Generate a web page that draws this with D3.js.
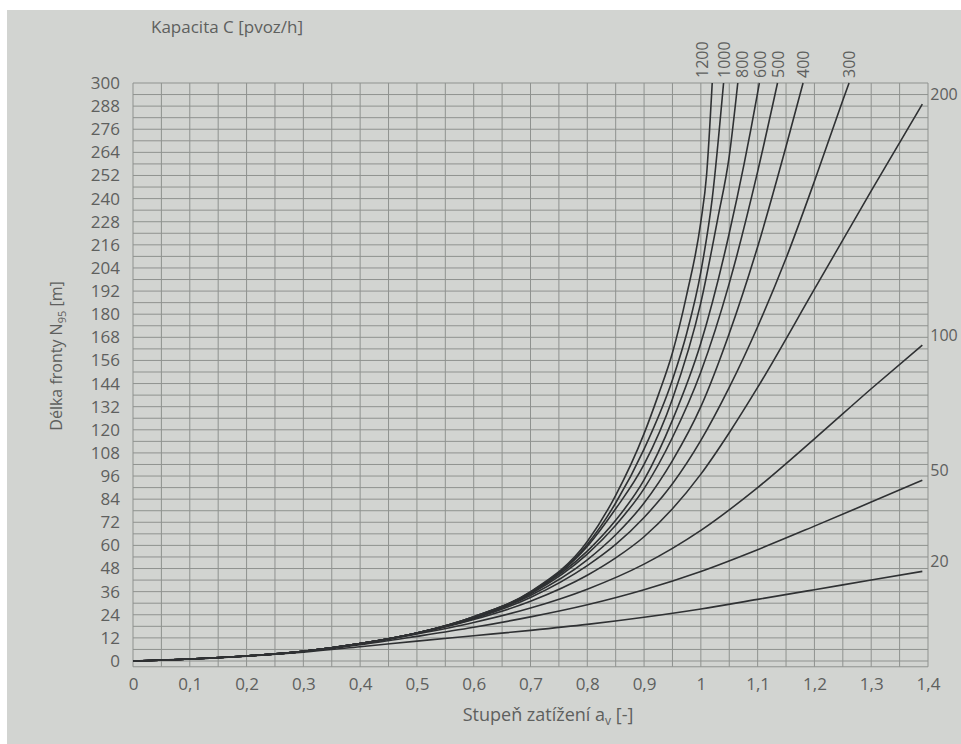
<!DOCTYPE html>
<html lang="cs">
<head>
<meta charset="UTF-8">
<title>Délka fronty N95</title>
<script src="https://cdn.jsdelivr.net/npm/d3@7"></script>
<style>
  body { margin: 0; background: #ffffff; }
  svg text { font-family: "Open Sans", "Noto Sans", sans-serif; fill: #5e605e; }
</style>
</head>
<body>
<script>
// capacity labels (pvoz/h) and the queue curves, [load a_v, N95 in m]
var capacities = ["20", "50", "100", "200", "300", "400", "500", "600", "800", "1000", "1200"];

var q20 = [[0,0],[0.1,1],[0.2,2.5],[0.3,4.6],[0.4,7.4],[0.5,10.3],[0.6,13.1],[0.7,15.9],[0.8,19],[0.9,22.7],[1.0,27],[1.1,32],[1.2,37],[1.3,42],[1.39,46.5]];
var q50 = [[0,0],[0.1,1],[0.2,2.6],[0.3,4.9],[0.4,8.4],[0.5,12.8],[0.6,17.5],[0.7,22.9],[0.8,29.2],[0.9,37],[1.0,46.5],[1.1,57.8],[1.2,70],[1.3,82.5],[1.39,93.8]];
var q100 = [[0,0],[0.1,1],[0.2,2.6],[0.3,5],[0.4,8.8],[0.5,14],[0.6,20],[0.7,27.5],[0.8,37.3],[0.9,50.3],[1.0,67.8],[1.1,90],[1.2,115.3],[1.3,141.3],[1.39,164]];
var q200 = [[0,0],[0.1,1],[0.2,2.6],[0.3,5],[0.4,9],[0.5,14.3],[0.6,21.5],[0.7,31],[0.8,44.5],[0.85,53.5],[0.9,64.5],[0.95,79],[1.0,97],[1.05,118.5],[1.1,142],[1.2,193],[1.3,244],[1.39,289]];
var q300 = [[0,0],[0.1,1],[0.2,2.6],[0.3,5],[0.4,9],[0.5,14.5],[0.6,22],[0.7,33],[0.8,49.5],[0.85,60.5],[0.9,74.5],[0.95,92],[1.0,114.5],[1.05,142],[1.1,173.5],[1.15,209],[1.2,249],[1.25,291],[1.261,300]];
var q400 = [[0,0],[0.1,1],[0.2,2.6],[0.3,5],[0.4,9],[0.5,14.5],[0.6,22.3],[0.7,34],[0.8,52.5],[0.85,65.5],[0.9,82],[0.95,104],[1.0,132],[1.05,170],[1.1,215],[1.15,267],[1.18,300]];
var q500 = [[0,0],[0.1,1],[0.2,2.6],[0.3,5],[0.4,9],[0.5,14.5],[0.6,22.5],[0.7,34.8],[0.8,55.5],[0.85,70.5],[0.9,89.5],[0.95,116],[1.0,150],[1.05,196],[1.1,254],[1.135,300]];
var q600 = [[0,0],[0.1,1],[0.2,2.6],[0.3,5],[0.4,9],[0.5,14.5],[0.6,22.6],[0.7,35.2],[0.8,57],[0.85,73],[0.9,94],[0.95,125],[1.0,165],[1.05,222],[1.1,295],[1.103,300]];
var q800 = [[0,0],[0.1,1],[0.2,2.6],[0.3,5],[0.4,9],[0.5,14.5],[0.6,22.8],[0.7,35.5],[0.8,59.5],[0.85,79],[0.9,102],[0.95,136],[1.0,186],[1.03,230],[1.05,262],[1.065,300]];
var q1000 = [[0,0],[0.1,1],[0.2,2.6],[0.3,5],[0.4,9],[0.5,14.5],[0.6,23],[0.7,35.7],[0.8,60.5],[0.85,82],[0.9,110],[0.95,146],[0.975,170],[1.0,202],[1.02,240],[1.04,300]];
var q1200 = [[0,0],[0.1,1],[0.2,2.6],[0.3,5],[0.4,9],[0.5,14.5],[0.6,23],[0.7,36],[0.8,62],[0.85,86],[0.9,118],[0.925,138],[0.95,160],[0.975,190],[1.0,228],[1.01,252],[1.02,300]];

var yTicks = d3.range(0, 301, 12);
var xTicks = d3.range(0, 15).map(function (i) { return i / 10; });

var curves = [q20, q50, q100, q200, q300, q400, q500, q600, q800, q1000, q1200];

var w = 961, h = 744;
var padL = 133, padR = 928, padT = 83, padB = 661;

var svg = d3.select("body").append("svg")
    .attr("width", w)
    .attr("height", h);

// paper
svg.append("rect")
    .attr("x", 7).attr("y", 10)
    .attr("width", w - 7).attr("height", h - 10)
    .attr("fill", "#d2d4d1");

var x = d3.scaleLinear().domain([0, 1.4]).range([padL, padR]);
var y = d3.scaleLinear().domain([0, 300]).range([padB, padT]);

// grid, every 0.05 and every 6 m
var grid = svg.append("g").attr("stroke", "#8f928f").attr("stroke-width", 1).attr("fill", "none");
grid.selectAll("line.v")
    .data(d3.range(0, 29).map(function (i) { return i * 0.05; }))
    .enter().append("line").attr("class", "v")
    .attr("x1", function (d) { return x(d); })
    .attr("x2", function (d) { return x(d); })
    .attr("y1", y(-3))
    .attr("y2", y(300));
grid.selectAll("line.h")
    .data([-3].concat(d3.range(0, 301, 6)))
    .enter().append("line").attr("class", "h")
    .attr("x1", x(0))
    .attr("x2", x(1.4))
    .attr("y1", function (d) { return y(d); })
    .attr("y2", function (d) { return y(d); });

// axes (labels only)
var fmt = function (d) { return String(+d.toFixed(1)).replace(".", ","); };

var yAxis = svg.append("g")
    .attr("transform", "translate(" + (padL - 13) + ",0)")
    .call(d3.axisLeft(y).tickValues(yTicks).tickSize(0).tickPadding(0));
yAxis.select(".domain").remove();
yAxis.selectAll("text").attr("font-size", 17).attr("fill", "#5e605e");

var xAxis = svg.append("g")
    .attr("transform", "translate(0," + (y(-3) + 11) + ")")
    .call(d3.axisBottom(x).tickValues(xTicks).tickSize(0).tickPadding(0).tickFormat(fmt));
xAxis.select(".domain").remove();
xAxis.selectAll("text").attr("font-size", 17).attr("fill", "#5e605e");

// curves
svg.append("clipPath").attr("id", "plot")
    .append("rect")
    .attr("x", x(0)).attr("y", y(300) - 1)
    .attr("width", x(1.4) - x(0)).attr("height", y(-3) - y(300) + 1);

var line = d3.line()
    .x(function (d) { return x(d[0]); })
    .y(function (d) { return y(d[1]); })
    .curve(d3.curveMonotoneX);

svg.append("g").attr("clip-path", "url(#plot)")
    .selectAll("path")
    .data(curves)
    .enter().append("path")
    .attr("d", line)
    .attr("fill", "none")
    .attr("stroke", "#2f3133")
    .attr("stroke-width", 1.6);

// curve labels: those that leave at the top are written vertically above the grid
var topLabels = [], sideLabels = [];
curves.forEach(function (c, i) {
    var last = c[c.length - 1];
    if (last[1] >= 300) topLabels.push({ name: capacities[i], px: x(last[0]) });
    else sideLabels.push({ name: capacities[i], px: x(last[0]), py: y(last[1]) });
});
topLabels.sort(function (a, b) { return a.px - b.px; });
topLabels.forEach(function (d, i) {
    d.pos = i === 0 ? d.px - 10 : Math.max(d.px, topLabels[i - 1].pos + 18);
});

svg.selectAll("text.top")
    .data(topLabels)
    .enter().append("text").attr("class", "top")
    .attr("transform", function (d) { return "translate(" + (d.pos + 6) + "," + (padT - 5) + ") rotate(-90)"; })
    .attr("font-size", 16)
    .text(function (d) { return d.name; });

svg.selectAll("text.side")
    .data(sideLabels)
    .enter().append("text").attr("class", "side")
    .attr("x", function (d) { return d.px + 8; })
    .attr("y", function (d) { return d.py - 4; })
    .attr("font-size", 16)
    .text(function (d) { return d.name; });

// titles
svg.append("text")
    .attr("x", 151).attr("y", 33)
    .attr("font-size", 17)
    .text("Kapacita C [pvoz/h]");

var yt = svg.append("text")
    .attr("transform", "translate(62,356) rotate(-90)")
    .attr("text-anchor", "middle")
    .attr("font-size", 16);
yt.append("tspan").text("Délka fronty N");
yt.append("tspan").attr("font-size", 11).attr("dy", 4).text("95");
yt.append("tspan").attr("dy", -4).text(" [m]");

var xt = svg.append("text")
    .attr("x", 548).attr("y", 721)
    .attr("text-anchor", "middle")
    .attr("font-size", 18);
xt.append("tspan").text("Stupeň zatížení a");
xt.append("tspan").attr("font-size", 12).attr("dy", 4).text("v");
xt.append("tspan").attr("dy", -4).text(" [-]");
</script>
</body>
</html>
